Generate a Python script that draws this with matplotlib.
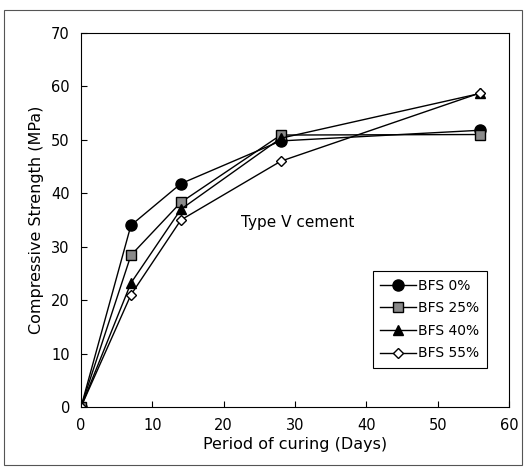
import matplotlib
matplotlib.use("Agg")
import matplotlib.pyplot as plt
from matplotlib.patches import Rectangle

plt.rcParams['font.family'] = ['DejaVu Sans']

days = [0, 7, 14, 28, 56]
bfs0 = [0, 34.0, 41.8, 49.8, 51.8]
bfs25 = [0, 28.4, 38.3, 50.9, 51.0]
bfs40 = [0, 23.2, 37.0, 50.3, 58.7]
bfs55 = [0, 21.0, 35.0, 46.0, 58.8]
labels = ['BFS 0%', 'BFS 25%', 'BFS 40%', 'BFS 55%']

fig = plt.figure(figsize=(5.29, 4.69), dpi=100)
ax = fig.add_axes([81/529, 1-407/469, (509-81)/529, (407-33)/469])

ax.plot(days, bfs0, '-', color='black', lw=1.0, marker='o', ms=8, mfc='black', mec='black', label=labels[0])
ax.plot(days, bfs25, '-', color='black', lw=1.0, marker='s', ms=7, mfc='#8a8a8a', mec='black', label=labels[1])
ax.plot(days, bfs40, '-', color='black', lw=1.0, marker='^', ms=7, mfc='black', mec='black', label=labels[2])
ax.plot(days, bfs55, '-', color='black', lw=1.0, marker='D', ms=5, mfc='white', mec='black', mew=1.0, label=labels[3])

ax.set_xlim(0, 60)
ax.set_ylim(0, 70)
ax.set_xticks(range(0, 61, 10))
ax.set_yticks(range(0, 71, 10))
ax.tick_params(direction='in', length=4, labelsize=10.5, pad=8)
for s in ax.spines.values():
    s.set_linewidth(0.8)
ax.set_xlabel('Period of curing (Days)', fontsize=11.5, labelpad=3)
ax.set_ylabel('Compressive Strength (MPa)', fontsize=11.5, labelpad=5)

ax.text(30.4, 34.5, 'Type V cement', fontsize=11, ha='center', va='center')

leg = ax.legend(loc='lower right', bbox_to_anchor=(0.949, 0.104), borderaxespad=0, fontsize=10,
                frameon=True, fancybox=False, edgecolor='black', framealpha=1,
                handlelength=2.6, handletextpad=0.15, labelspacing=0.62, borderpad=0.55)
leg.get_frame().set_linewidth(0.8)

fig.patches.append(Rectangle((4/529, 1-465/469), 518/529, 455/469, transform=fig.transFigure,
                             fill=False, edgecolor='#555555', lw=0.8))

fig.savefig('out.png', dpi=100)
